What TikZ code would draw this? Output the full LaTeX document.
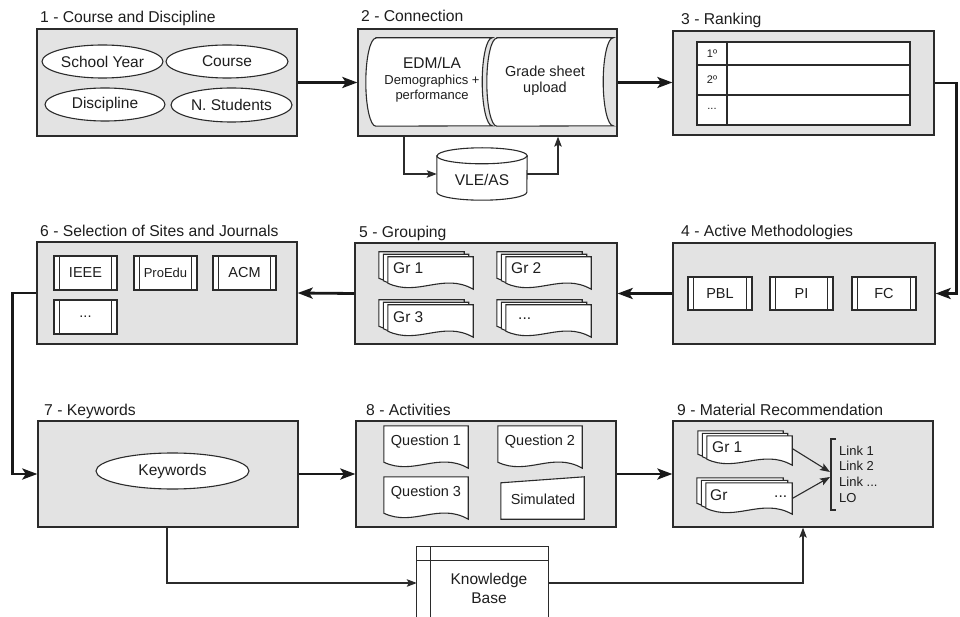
\documentclass[tikz,border=0pt]{standalone}
\usepackage{fontspec}
\setmainfont{Liberation Sans}
\usetikzlibrary{calc,arrows.meta,shapes.geometric}
\definecolor{panelC}{HTML}{E3E3E3}
\definecolor{lineC}{HTML}{2B2B2B}
\definecolor{txtC}{HTML}{1E1E1E}

% document shape (wavy bottom), #1 node, #2 dx, #3 dy (pixels, y down)
\newcommand\docshape[3]{%
  \draw[shp] ($(#1.north west)+(#2,#3)$) -- ($(#1.north east)+(#2,#3)$) -- ($(#1.south east)+(#2,#3)$)
    .. controls ($(#1.south east)!0.35!(#1.south west)+(#2,#3-17)$) and ($(#1.south east)!0.65!(#1.south west)+(#2,#3+8)$) ..
    ($(#1.south west)+(#2,#3-6)$) -- cycle;}
\newcommand\multidoc[1]{\docshape{#1}{-9}{-5}\docshape{#1}{-4.5}{-2.5}\docshape{#1}{0}{0}}
% stored data shape
\newcommand\storeddata[1]{%
  \draw[shp] ([xshift=10pt]#1.north west) -- (#1.north east)
    arc[start angle=90,end angle=270,x radius=10pt,y radius=44pt]
    -- ([xshift=10pt]#1.south west)
    arc[start angle=270,end angle=90,x radius=10pt,y radius=44pt] -- cycle;}
% predefined process inner lines
\newcommand\subr[1]{%
  \draw[conn] ([xshift=6pt]#1.north west) -- ([xshift=6pt]#1.south west)
              ([xshift=-6pt]#1.north east) -- ([xshift=-6pt]#1.south east);}

\begin{document}
\begin{tikzpicture}[x=1pt,y=-1pt,
  panel/.style={draw=lineC, fill=panelC, line width=1.3pt, inner sep=0pt},
  shp/.style={draw=lineC, fill=white, line width=1.1pt},
  shpframe/.style={inner sep=0pt, draw=none},
  txt/.style={inner sep=0pt, text=txtC, font=\fontsize{15.5}{18}\selectfont},
  ptitle/.style={txt, anchor=base west, font=\fontsize{15.7}{18}\selectfont},
  oval/.style={ellipse, shp, inner sep=0pt, text=txtC, font=\fontsize{15.5}{18}\selectfont},
  subbox/.style={rectangle, shp, inner sep=0pt, text=txtC, font=\fontsize{14.5}{17}\selectfont},
  flow/.style={draw=black!90, line width=2.8pt, -{Stealth[length=15pt,width=11pt,inset=3.5pt]}},
  conn/.style={draw=lineC, line width=1.1pt},
  connar/.style={conn, -{Stealth[length=10pt,width=7.5pt,inset=2pt]}},
]
\useasboundingbox (0,0) rectangle (960,617);
\fill[white] (0,0) rectangle (960,617);

% ---------- panels ----------
\node[panel, minimum width=260pt, minimum height=107pt] (p1) at (167,82.5) {};
\node[panel, minimum width=259pt, minimum height=107pt] (p2) at (487.5,82.5) {};
\node[panel, minimum width=261pt, minimum height=104pt] (p3) at (803.5,83) {};
\node[panel, minimum width=262pt, minimum height=101pt] (p4) at (804,293.5) {};
\node[panel, minimum width=262pt, minimum height=101pt] (p5) at (486,293.5) {};
\node[panel, minimum width=260pt, minimum height=102pt] (p6) at (167,293) {};
\node[panel, minimum width=260pt, minimum height=106pt] (p7) at (168,474) {};
\node[panel, minimum width=260pt, minimum height=106pt] (p8) at (486,474) {};
\node[panel, minimum width=260pt, minimum height=106pt] (p9) at (803,474) {};

% ---------- titles ----------
\node[ptitle] (t1) at (40,23) {1 - Course and Discipline};
\node[ptitle] (t2) at (361,22) {2 - Connection};
\node[ptitle] (t3) at (681,25) {3 - Ranking};
\node[ptitle] (t4) at (681,237) {4 - Active Methodologies};
\node[ptitle] (t5) at (359,238) {5 - Grouping};
\node[ptitle] (t6) at (40,237) {6 - Selection of Sites and Journals};
\node[ptitle] (t7) at (44,415) {7 - Keywords};
\node[ptitle] (t8) at (366,415) {8 - Activities};
\node[ptitle] (t9) at (677,415) {9 - Material Recommendation};

% ---------- 1 ----------
\node[oval, minimum width=121pt, minimum height=33pt] (sy) at (102.5,61.5) {School Year};
\node[oval, minimum width=122pt, minimum height=33pt] (co) at (227,61.5) {Course};
\node[oval, minimum width=120pt, minimum height=33pt] (di) at (105,104.5) {Discipline};
\node[oval, minimum width=121pt, minimum height=34pt] (ns) at (231.5,105) {N. Students};

% ---------- 2 ----------
\node[shpframe, minimum width=126pt, minimum height=88pt] (edm) at (429,82) {};
\node[shpframe, minimum width=126pt, minimum height=88pt] (gs) at (550,82) {};
\storeddata{edm}
\storeddata{gs}
\node[txt, align=center, font=\fontsize{13}{15.5}\selectfont] (edmt) at (432,80)
  {{\fontsize{15.5}{17}\selectfont EDM/LA}\\Demographics +\\performance};
\node[txt, align=center, font=\fontsize{14.5}{16.5}\selectfont] (gst) at (545,81) {Grade sheet\\upload};

\node[shpframe, minimum width=90pt, minimum height=52pt] (vle) at (482,174) {};
\draw[shp] ($(vle.north west)+(0,8)$) -- ($(vle.south west)+(0,-8)$)
   arc[start angle=180,end angle=360,x radius=45pt,y radius=8pt]
   -- ($(vle.north east)+(0,8)$)
   arc[start angle=0,end angle=180,x radius=45pt,y radius=8pt] -- cycle;
\draw[conn] ($(vle.north west)+(0,8)$) arc[start angle=180,end angle=360,x radius=45pt,y radius=8pt];
\node[txt] (vlet) at (482,180) {VLE/AS};
\draw[connar] ([xshift=-83.5pt]p2.south) |- (vle.west);
\draw[connar] (vle.east) -| ([xshift=70.5pt]p2.south);

% ---------- 3 ----------
\node[shp, inner sep=0pt, minimum width=213pt, minimum height=83pt] (tbl) at (803.5,83.5) {};
\draw[conn] (697,65) -- (910,65) (697,95) -- (910,95) (727,42) -- (727,125);
\node[txt, font=\fontsize{11}{13}\selectfont] (r1) at (712,54) {1º};
\node[txt, font=\fontsize{11}{13}\selectfont] (r2) at (712,80) {2º};
\node[txt, font=\fontsize{11}{13}\selectfont] (r3) at (712,109) {...};

% ---------- 4 ----------
\node[subbox, minimum width=64pt, minimum height=33pt] (pbl) at (720,293.5) {PBL};
\node[subbox, minimum width=63pt, minimum height=33pt] (pi) at (801.5,293.5) {PI};
\node[subbox, minimum width=64pt, minimum height=33pt] (fc) at (884,293.5) {FC};
\subr{pbl}\subr{pi}\subr{fc}

% ---------- 5 ----------
\node[shpframe, minimum width=85pt, minimum height=32pt] (g1) at (430.5,273) {};
\node[shpframe, minimum width=85pt, minimum height=32pt] (g2) at (548.5,273) {};
\node[shpframe, minimum width=85pt, minimum height=32pt] (g3) at (430.5,321) {};
\node[shpframe, minimum width=85pt, minimum height=32pt] (g4) at (548.5,321) {};
\multidoc{g1}\multidoc{g2}\multidoc{g3}\multidoc{g4}
\node[txt, anchor=west] (g1t) at (393,268) {Gr 1};
\node[txt, anchor=west] (g2t) at (511,268) {Gr 2};
\node[txt, anchor=west] (g3t) at (393,317) {Gr 3};
\node[txt, anchor=west] (g4t) at (518,319) {...};

% ---------- 6 ----------
\node[subbox, minimum width=63pt, minimum height=34pt] (ieee) at (85.5,273) {IEEE};
\node[subbox, minimum width=63pt, minimum height=34pt, font=\fontsize{13}{15}\selectfont] (proedu) at (165.5,273) {ProEdu};
\node[subbox, minimum width=63pt, minimum height=34pt] (acm) at (244.5,273) {ACM};
\node[subbox, minimum width=63pt, minimum height=34pt] (more6) at (85.5,317) {...};
\subr{ieee}\subr{proedu}\subr{acm}\subr{more6}

% ---------- 7 ----------
\node[oval, minimum width=153pt, minimum height=36pt] (kw) at (172.5,471) {Keywords};

% ---------- 8 ----------
\node[shpframe, minimum width=84pt, minimum height=42pt] (q1) at (426,447) {};
\node[shpframe, minimum width=84pt, minimum height=42pt] (q2) at (540,447) {};
\node[shpframe, minimum width=84pt, minimum height=42pt] (q3) at (426,498) {};
\node[shpframe, minimum width=83pt, minimum height=42pt] (sim) at (542.5,498) {};
\docshape{q1}{0}{0}\docshape{q2}{0}{0}\docshape{q3}{0}{0}
\draw[shp] ($(sim.north west)+(0,6)$) -- (sim.north east) -- (sim.south east) -- (sim.south west) -- cycle;
\node[txt, font=\fontsize{14.5}{17}\selectfont] (q1t) at (426,442) {Question 1};
\node[txt, font=\fontsize{14.5}{17}\selectfont] (q2t) at (540,442) {Question 2};
\node[txt, font=\fontsize{14.5}{17}\selectfont] (q3t) at (426,493) {Question 3};
\node[txt, font=\fontsize{14.5}{17}\selectfont] (simt) at (543,499) {Simulated};

% ---------- 9 ----------
\node[shpframe, minimum width=85pt, minimum height=29pt] (g91) at (749.5,450.5) {};
\node[shpframe, minimum width=86pt, minimum height=31pt] (g92) at (749,498.5) {};
\multidoc{g91}\multidoc{g92}
\node[txt, anchor=west] (g91t) at (712,447) {Gr 1};
\node[txt, anchor=west] (g92t) at (710,495) {Gr};
\node[txt, anchor=west] (g92d) at (774,497) {...};
\draw[conn] (836,439) -- (831,439) -- (831,510) -- (836,510);
\node[txt, anchor=west, align=left, font=\fontsize{13}{15.7}\selectfont] (links) at (839,474)
  {Link 1\\Link 2\\Link ...\\LO};
\coordinate (b1) at (830,472);
\coordinate (b2) at (830,477);
\draw[connar] ([yshift=2pt]g91.east) -- (b1);
\draw[connar] (g92.east) -- (b2);

% ---------- Knowledge base ----------
\node[shpframe, minimum width=131pt, minimum height=72pt] (kb) at (482.5,583) {};
\filldraw[shp] ($(kb.south west)+(0,-2)$) -- (kb.north west) -- (kb.north east) -- ($(kb.south east)+(0,-2)$);
\draw[conn] ($(kb.north west)+(0,14)$) -- ($(kb.north east)+(0,14)$)
            ($(kb.north west)+(14,0)$) -- ($(kb.south west)+(14,-2)$);
\node[txt, align=center, font=\fontsize{15.5}{19}\selectfont] (kbt) at (489,588) {Knowledge\\Base};
\draw[connar] ([xshift=-1pt]p7.south) |- (kb.west);
\draw[connar] (kb.east) -| (p9.south);

% ---------- main flow ----------
\draw[flow] (p1.east) -- (p2.west);
\draw[flow] (p2.east) -- (p2.east -| p3.west);
\draw[flow] (p3.east) -- ++(22,0) |- (p4.east);
\draw[flow] (p4.west) -- (p5.east);
\draw[flow] (p5.west) -- (p6.east);
\draw[flow] (p6.west) -- ++(-24,0) |- (p7.west);
\draw[flow] (p7.east) -- (p8.west);
\draw[flow] (p8.east) -- (p9.west);
\end{tikzpicture}
\end{document}
